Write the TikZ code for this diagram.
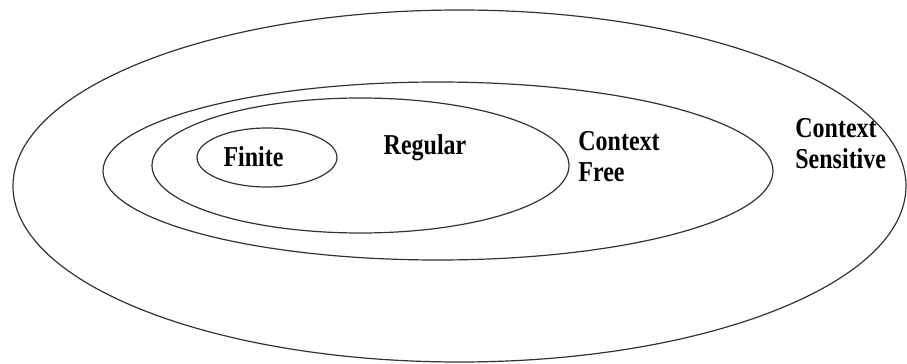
\documentclass[tikz,border=0pt]{standalone}
\usepackage{fontspec}
\setmainfont{Liberation Serif}
\usetikzlibrary{shapes, positioning}
\newcommand{\tall}[1]{\scalebox{1}[1.2]{#1}}

\begin{document}
\begin{tikzpicture}[x=0.5pt, y=-0.5pt]
    \tikzset{set/.style={ellipse, draw=black!80, line width=0.6pt, inner sep=0pt},
             lbl/.style={font=\fontsize{12}{15.5}\selectfont\bfseries, inner sep=0pt}}
    \useasboundingbox (0,0) rectangle (907,364);

    \node[set, minimum width=446.5pt, minimum height=176pt] (CS) at (459.5,186) {};
    \node[set, minimum width=335pt, minimum height=89pt] (CF) at (438,171) {};
    \node[set, minimum width=208.5pt, minimum height=67.5pt] (R) at (360.5,165.5) {};
    \node[set, minimum width=70pt, minimum height=29.5pt] (F) at (267,157.5) {};

    \node[lbl, anchor=base] (Flbl) at (253.5,166) {\tall{Finite}};
    \node[lbl, anchor=base] (Rlbl) at (425,155) {\tall{Regular}};
    \node[lbl, anchor=west, align=left] (CFlbl) at (578,157) {\tall{Context}\\\tall{Free}};
    \node[lbl, anchor=west, align=left] (CSlbl) at (795,144) {\tall{Context}\\\tall{Sensitive}};
\end{tikzpicture}
\end{document}
